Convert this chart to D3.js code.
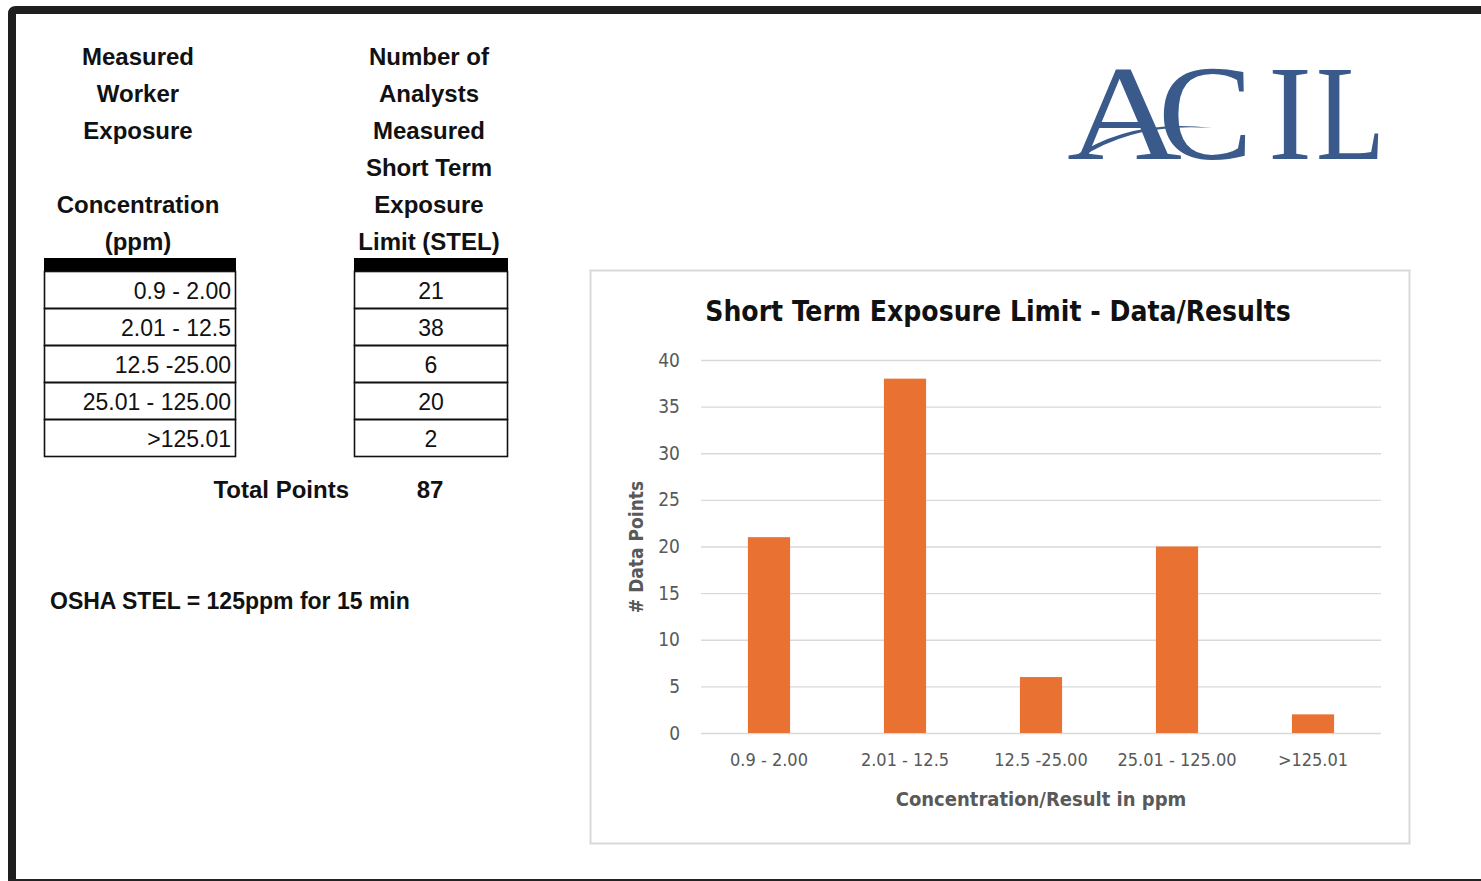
<!DOCTYPE html>
<html>
<head>
<meta charset="utf-8">
<script src="https://cdn.jsdelivr.net/npm/d3@7"></script>
<style>
  body { margin: 0; background: #fff; }
  svg { display: block; }
  .hdr { font-family: "Liberation Sans", Arial, sans-serif; font-weight: bold; font-size: 24px; fill: #111; }
  .cell { font-family: "Liberation Sans", Arial, sans-serif; font-size: 23px; fill: #111; }
  .narrow { font-family: "Liberation Sans Narrow", "Arial Narrow", "DejaVu Sans Condensed", sans-serif; }
</style>
</head>
<body>
<div class="chart"></div>
<script>
var svgWidth = 1481;
var svgHeight = 881;

// table / chart data
var ranges = ["0.9 - 2.00", "2.01 - 12.5", "12.5 -25.00", "25.01 - 125.00", ">125.01"];
var counts = [21, 38, 6, 20, 2];
var totalPoints = 87;
var yTicks = [0, 5, 10, 15, 20, 25, 30, 35, 40];

var headerLeft = ["Measured", "Worker", "Exposure", "", "Concentration", "(ppm)"];
var headerRight = ["Number of", "Analysts", "Measured", "Short Term", "Exposure", "Limit (STEL)"];

var chartTitle = "Short Term Exposure Limit - Data/Results";
var xTitle = "Concentration/Result in ppm";
var yTitle = "# Data Points";
var note = "OSHA STEL = 125ppm for 15 min";

var svg = d3.select(".chart")
  .append("svg")
  .attr("width", svgWidth)
  .attr("height", svgHeight);

svg.append("rect").attr("width", svgWidth).attr("height", svgHeight).attr("fill", "#fff");

// dark frame (top, left, bottom)
svg.append("path")
  .attr("d", "M12,881 V14 Q12,10 16,10 H1481")
  .attr("fill", "none")
  .attr("stroke", "#1e1e1e")
  .attr("stroke-width", 8);
svg.append("rect")
  .attr("x", 8).attr("y", 879).attr("width", svgWidth - 8).attr("height", 2)
  .attr("fill", "#222");

// ---- left side: headers ----
var lineY = d3.scaleLinear().domain([0, 5]).range([65, 250]);

svg.append("g").selectAll("text")
  .data(headerLeft)
  .enter().append("text")
  .attr("class", "hdr")
  .attr("x", 138)
  .attr("y", function(d, i) { return lineY(i); })
  .attr("text-anchor", "middle")
  .text(function(d) { return d; });

svg.append("g").selectAll("text")
  .data(headerRight)
  .enter().append("text")
  .attr("class", "hdr")
  .attr("x", 429)
  .attr("y", function(d, i) { return lineY(i); })
  .attr("text-anchor", "middle")
  .text(function(d) { return d; });

// ---- tables ----
var rowScale = d3.scaleBand()
  .domain(d3.range(ranges.length))
  .range([271, 456]);

function drawTable(x0, x1, values, anchor) {
  var g = svg.append("g");
  g.append("rect")
    .attr("x", x0).attr("y", 258)
    .attr("width", x1 - x0).attr("height", 13)
    .attr("fill", "#000");

  g.selectAll("rect.row")
    .data(values)
    .enter().append("rect")
    .attr("class", "row")
    .attr("x", x0 + 0.5)
    .attr("y", function(d, i) { return rowScale(i) + 0.5; })
    .attr("width", x1 - x0 - 1)
    .attr("height", rowScale.bandwidth())
    .attr("fill", "none")
    .attr("stroke", "#111")
    .attr("stroke-width", 1.6);

  g.selectAll("text")
    .data(values)
    .enter().append("text")
    .attr("class", "cell")
    .attr("x", anchor == "end" ? x1 - 5 : (x0 + x1) / 2)
    .attr("y", function(d, i) { return rowScale(i) + 28; })
    .attr("text-anchor", anchor)
    .text(function(d) { return d; });
}

drawTable(44, 236, ranges, "end");
drawTable(354, 508, counts, "middle");

svg.append("text")
  .attr("class", "hdr")
  .attr("x", 349).attr("y", 498)
  .attr("text-anchor", "end")
  .text("Total Points");

svg.append("text")
  .attr("class", "hdr")
  .attr("x", 430).attr("y", 498)
  .attr("text-anchor", "middle")
  .text(totalPoints);

svg.append("text")
  .attr("class", "hdr")
  .attr("x", 50).attr("y", 609)
  .style("font-size", "23px")
  .text(note);

// ---- ACIL logo ----
var logo = svg.append("g")
  .attr("fill", "#3a5a8c")
  .style("font-family", "'Liberation Serif', 'DejaVu Serif', serif")
  .style("font-size", "136px");

var letters = [
  { ch: "A", x: 1067, w: 115 },
  { ch: "C", x: 1158, w: 95 },
  { ch: "I", x: 1268, w: 44 },
  { ch: "L", x: 1316, w: 69 }
];
logo.selectAll("text")
  .data(letters)
  .enter().append("text")
  .attr("x", function(d) { return d.x; })
  .attr("y", 159)
  .attr("textLength", function(d) { return d.w; })
  .attr("lengthAdjust", "spacingAndGlyphs")
  .text(function(d) { return d.ch; });

// swoosh across the A
logo.append("path")
  .attr("d", "M1072,158 Q1130,118 1212,128 Q1135,122 1080,158 Z")
  .attr("fill", "#3a5a8c");

// ---- chart ----
svg.append("rect")
  .attr("x", 590.5).attr("y", 270.5)
  .attr("width", 819).attr("height", 573)
  .attr("fill", "#fff")
  .attr("stroke", "#d9d9d9")
  .attr("stroke-width", 2);

var plotLeft = 701, plotRight = 1381, plotTop = 360, plotBottom = 733;

var xBandScale = d3.scaleBand()
  .domain(ranges)
  .range([plotLeft, plotRight])
  .paddingInner(0.69)
  .paddingOuter(0.345);

var xCat = d3.scaleBand()
  .domain(ranges)
  .range([plotLeft, plotRight]);

var yLinearScale = d3.scaleLinear()
  .domain([0, 40])
  .range([plotBottom, plotTop]);

var chart = svg.append("g");

// gridlines via axis
var grid = chart.append("g")
  .attr("transform", "translate(" + plotLeft + ",0)")
  .call(d3.axisLeft(yLinearScale).tickValues(yTicks).tickSize(-(plotRight - plotLeft)).tickFormat(""));
grid.select(".domain").remove();
grid.selectAll("line").attr("stroke", "#d9d9d9").attr("stroke-width", 1.3);

// y tick labels
var leftAxis = chart.append("g")
  .attr("transform", "translate(" + (plotLeft - 10) + ",0)")
  .call(d3.axisLeft(yLinearScale).tickValues(yTicks).tickSize(0).tickPadding(11));
leftAxis.select(".domain").remove();
leftAxis.selectAll("text")
  .attr("class", "narrow")
  .style("font-size", "19px")
  .attr("fill", "#595959");

// bars
chart.selectAll("rect.bar")
  .data(counts)
  .enter().append("rect")
  .attr("class", "bar")
  .attr("x", function(d, i) { return xBandScale(ranges[i]); })
  .attr("y", function(d) { return yLinearScale(d); })
  .attr("width", xBandScale.bandwidth())
  .attr("height", function(d) { return plotBottom - yLinearScale(d); })
  .attr("fill", "#e97132");

// x axis labels
var bottomAxis = chart.append("g")
  .attr("transform", "translate(0," + plotBottom + ")")
  .call(d3.axisBottom(xCat).tickSize(0).tickPadding(20));
bottomAxis.select(".domain").remove();
bottomAxis.selectAll("text")
  .attr("class", "narrow")
  .style("font-size", "18px")
  .attr("fill", "#595959");

// titles
chart.append("text")
  .attr("class", "narrow")
  .attr("x", 998).attr("y", 321)
  .attr("text-anchor", "middle")
  .style("font-size", "28px")
  .style("font-weight", "bold")
  .attr("fill", "#111")
  .text(chartTitle);

chart.append("text")
  .attr("class", "narrow")
  .attr("x", 1041).attr("y", 806)
  .attr("text-anchor", "middle")
  .style("font-size", "20px")
  .style("font-weight", "bold")
  .attr("fill", "#595959")
  .text(xTitle);

chart.append("text")
  .attr("class", "narrow")
  .attr("transform", "translate(643,547) rotate(-90)")
  .attr("text-anchor", "middle")
  .style("font-size", "19px")
  .style("font-weight", "bold")
  .attr("fill", "#595959")
  .text(yTitle);
</script>
</body>
</html>
